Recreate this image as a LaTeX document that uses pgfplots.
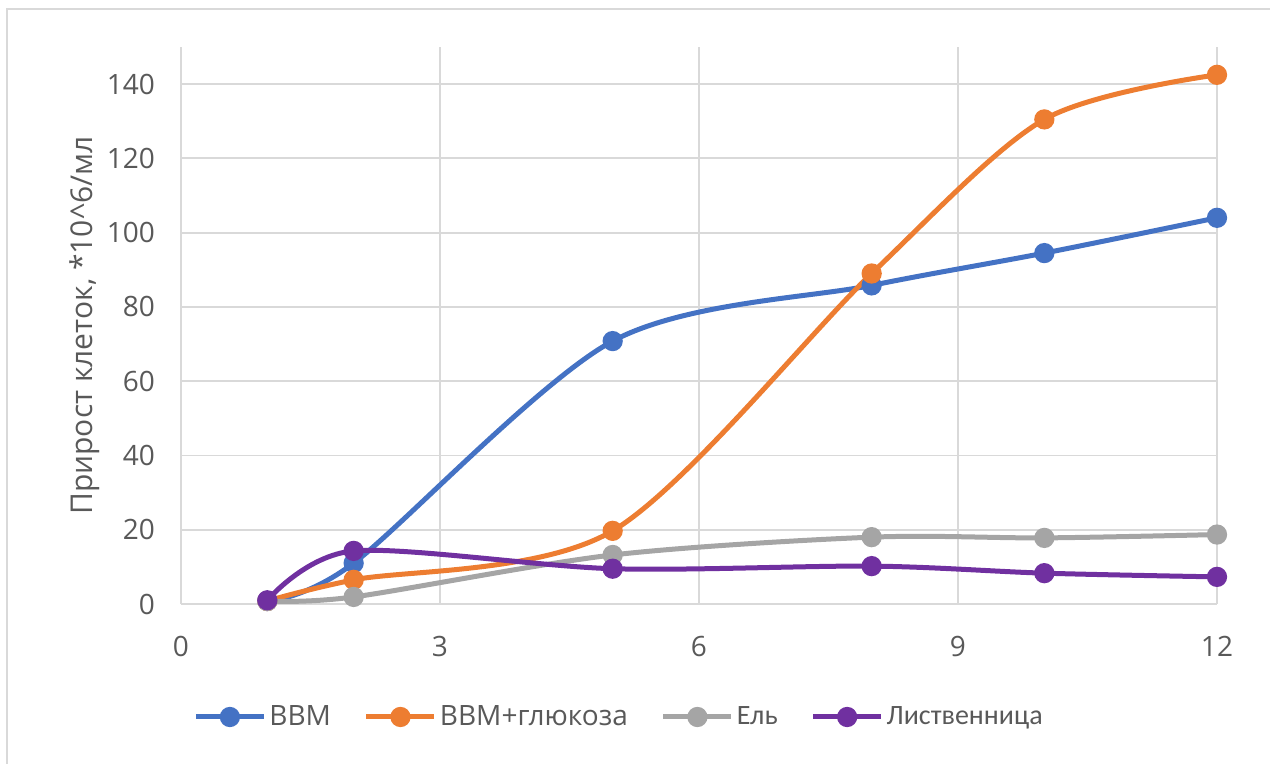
\documentclass[border=0pt]{standalone}
\usepackage{pgfplots}
\pgfplotsset{compat=1.18}
\usepackage{fontspec}
\setmainfont{Open Sans}
\newfontfamily\carl{Carlito}
\definecolor{cblue}{HTML}{4472C4}
\definecolor{corange}{HTML}{ED7D31}
\definecolor{cgray}{HTML}{A5A5A5}
\definecolor{cpurple}{HTML}{7030A0}
\definecolor{grid}{HTML}{D9D9D9}
\definecolor{txt}{HTML}{595959}
\begin{document}
\begin{tikzpicture}
\path[use as bounding box] (-90.5pt,-80pt) rectangle (544.5pt,302pt);
\draw[grid, line width=1.2pt] (-87pt,-80pt) -- (-87pt,297.5pt) -- (544.5pt,297.5pt);
\begin{axis}[
  at={(0pt,0pt)}, anchor=south west,
  scale only axis, width=518pt, height=278.5pt,
  xmin=0, xmax=12, ymin=0, ymax=150,
  xtick={0,3,6,9,12}, ytick={0,20,40,60,80,100,120,140},
  major tick length=0pt,
  axis line style={draw=grid, line width=0.9pt},
  axis x line*=bottom, axis y line*=left,
  grid=major, major grid style={draw=grid, line width=0.9pt},
  clip=false,
  /pgf/number format/assume math mode=true,
  tick label style={font=\fontsize{14}{16}\selectfont, text=txt},
  xticklabel style={yshift=-12.5pt},
  yticklabel style={xshift=-9.5pt},
  ylabel={Прирост клеток, *10\^{}6/мл},
  ylabel style={font=\fontsize{15}{17}\selectfont, text=txt, at={(axis description cs:-0.0927,0.5)}, anchor=center},
  every axis plot/.append style={line width=2.5pt, smooth, tension=0.5, mark=*, mark size=3.8pt, mark options={solid}},
  legend columns=4,
  legend style={draw=none, fill=none, at={(3pt,-56.5pt)}, anchor=west,
    font=\fontsize{14}{16}\selectfont, text=txt,
    /tikz/every even column/.append style={column sep=15pt},
    nodes={inner sep=1.5pt}},
  legend image code/.code={\draw[#1] plot[mark repeat=2, mark phase=2] coordinates {(0pt,0pt) (17pt,0pt) (34pt,0pt)};},
]
\addplot[color=cblue] coordinates {(1,0.8) (2,11) (5,70.8) (8,85.8) (10,94.5) (12,104)};
\addlegendentry{ВВМ}
\addplot[color=corange] coordinates {(1,0.8) (2,6.5) (5,19.7) (8,89) (10,130.5) (12,142.5)};
\addlegendentry{ВВМ+глюкоза}
\addplot[color=cgray] coordinates {(1,0.8) (2,1.9) (5,13.2) (8,18) (10,17.8) (12,18.7)};
\addlegendentry{\carl Ель}
\addplot[color=cpurple] coordinates {(1,1) (2,14.3) (5,9.5) (8,10.2) (10,8.3) (12,7.3)};
\addlegendentry{\carl Лиственница}
\end{axis}
\end{tikzpicture}
\end{document}
